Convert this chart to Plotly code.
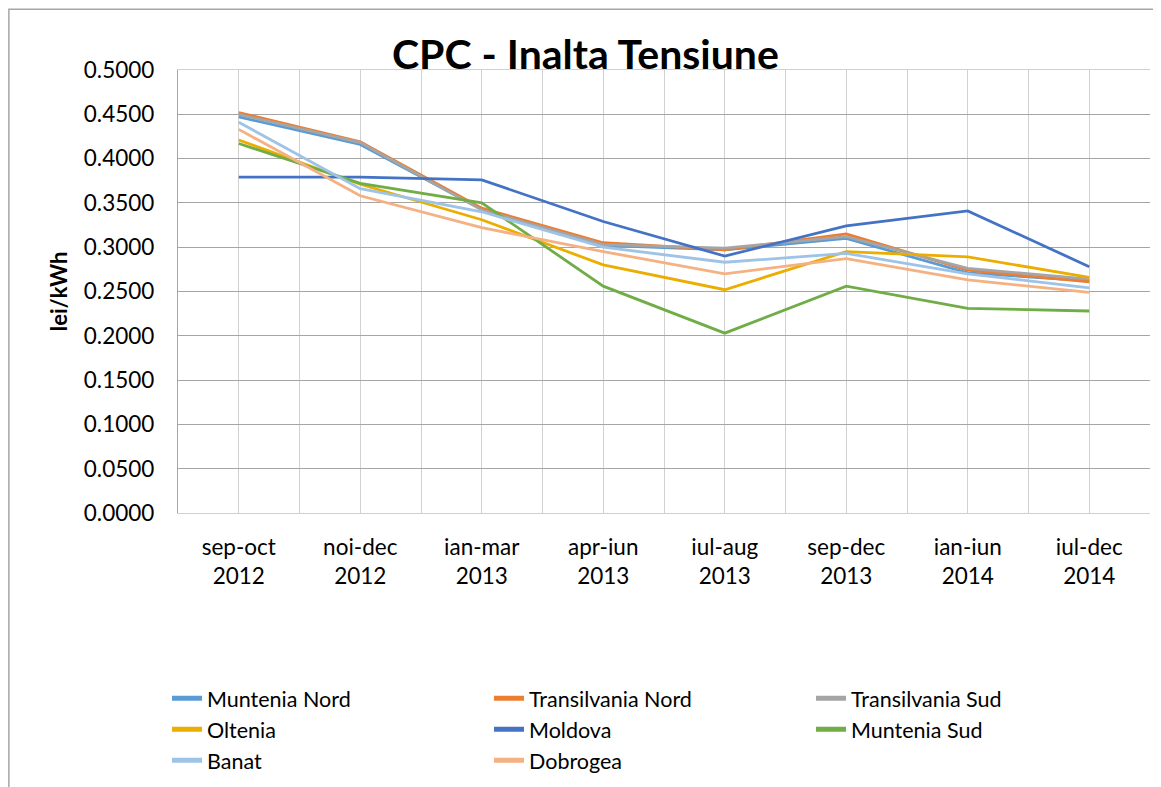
import plotly.graph_objects as go

categories = ["sep-oct<br>2012", "noi-dec<br>2012", "ian-mar<br>2013", "apr-iun<br>2013",
              "iul-aug<br>2013", "sep-dec<br>2013", "ian-iun<br>2014", "iul-dec<br>2014"]

muntenia_nord = [0.447, 0.416, 0.343, 0.302, 0.297, 0.310, 0.271, 0.262]
transilvania_nord = [0.452, 0.419, 0.344, 0.305, 0.297, 0.315, 0.274, 0.261]
transilvania_sud = [0.450, 0.418, 0.342, 0.303, 0.299, 0.312, 0.276, 0.264]
oltenia = [0.421, 0.371, 0.331, 0.280, 0.252, 0.295, 0.289, 0.266]
moldova = [0.379, 0.379, 0.376, 0.329, 0.290, 0.324, 0.341, 0.278]
muntenia_sud = [0.417, 0.372, 0.350, 0.256, 0.203, 0.256, 0.231, 0.228]
banat = [0.441, 0.366, 0.340, 0.300, 0.283, 0.293, 0.270, 0.254]
dobrogea = [0.433, 0.358, 0.322, 0.295, 0.270, 0.287, 0.263, 0.249]

series = [
    ("Muntenia Nord", muntenia_nord, "#5B9BD5"),
    ("Transilvania Nord", transilvania_nord, "#ED7D31"),
    ("Transilvania Sud", transilvania_sud, "#A5A5A5"),
    ("Oltenia", oltenia, "#EBAE00"),
    ("Moldova", moldova, "#4472C4"),
    ("Muntenia Sud", muntenia_sud, "#70AD47"),
    ("Banat", banat, "#9DC3E6"),
    ("Dobrogea", dobrogea, "#F4B183"),
]

FONT = "Lato"
xs = list(range(len(categories)))

fig = go.Figure()
for name, vals, color in series:
    fig.add_trace(go.Scatter(x=xs, y=vals, name=name, mode="lines",
                             line=dict(color=color, width=2.8)))

fig.update_layout(
    width=1153, height=779,
    margin=dict(l=170, r=11, t=62, b=274, autoexpand=False),
    paper_bgcolor="white", plot_bgcolor="white",
    font=dict(family=FONT, color="black", size=22),
    showlegend=True,
    legend=dict(orientation="h", x=-0.0113, y=-0.372, xanchor="left", yanchor="top",
                entrywidth=277, entrywidthmode="pixels",
                font=dict(size=21.5, family=FONT), bgcolor="rgba(0,0,0,0)",
                tracegroupgap=0, itemsizing="constant"),
    xaxis=dict(range=[-0.5, 7.5], tickmode="array", tickvals=xs, ticktext=categories,
               showgrid=True, gridcolor="#D0D0D0", gridwidth=1.3,
               minor=dict(showgrid=True, dtick=1, tick0=0.5, gridcolor="#D0D0D0", gridwidth=1.3),
               ticks="", showline=True, linecolor="#D0D0D0", linewidth=1.3, mirror=True,
               zeroline=False, ticklabelstandoff=14, automargin=False,
               tickfont=dict(size=22.5, family=FONT)),
    yaxis=dict(range=[0, 0.5], dtick=0.05, tickformat=".4f",
               showgrid=True, gridcolor="#A6A6A6", gridwidth=1.3,
               zeroline=False, showline=True, linecolor="#A6A6A6", linewidth=1.3,
               ticks="", ticklabelstandoff=18, automargin=False,
               tickfont=dict(size=22.5, family=FONT),
               title=dict(text="<b>lei/kWh</b>", font=dict(size=22, family=FONT), standoff=10)),
    annotations=[dict(text="<b>CPC - Inalta Tensiune</b>", xref="paper", yref="paper",
                      x=0.419, y=1.038, xanchor="center", yanchor="middle", showarrow=False,
                      font=dict(size=41, family=FONT, color="black"))],
    shapes=[dict(type="rect", xref="paper", yref="paper", x0=-0.174, x1=1.2, y0=-0.8, y1=1.137,
                 line=dict(color="#A6A6A6", width=1.5), layer="below")],
)

fig.write_html("out.html")
